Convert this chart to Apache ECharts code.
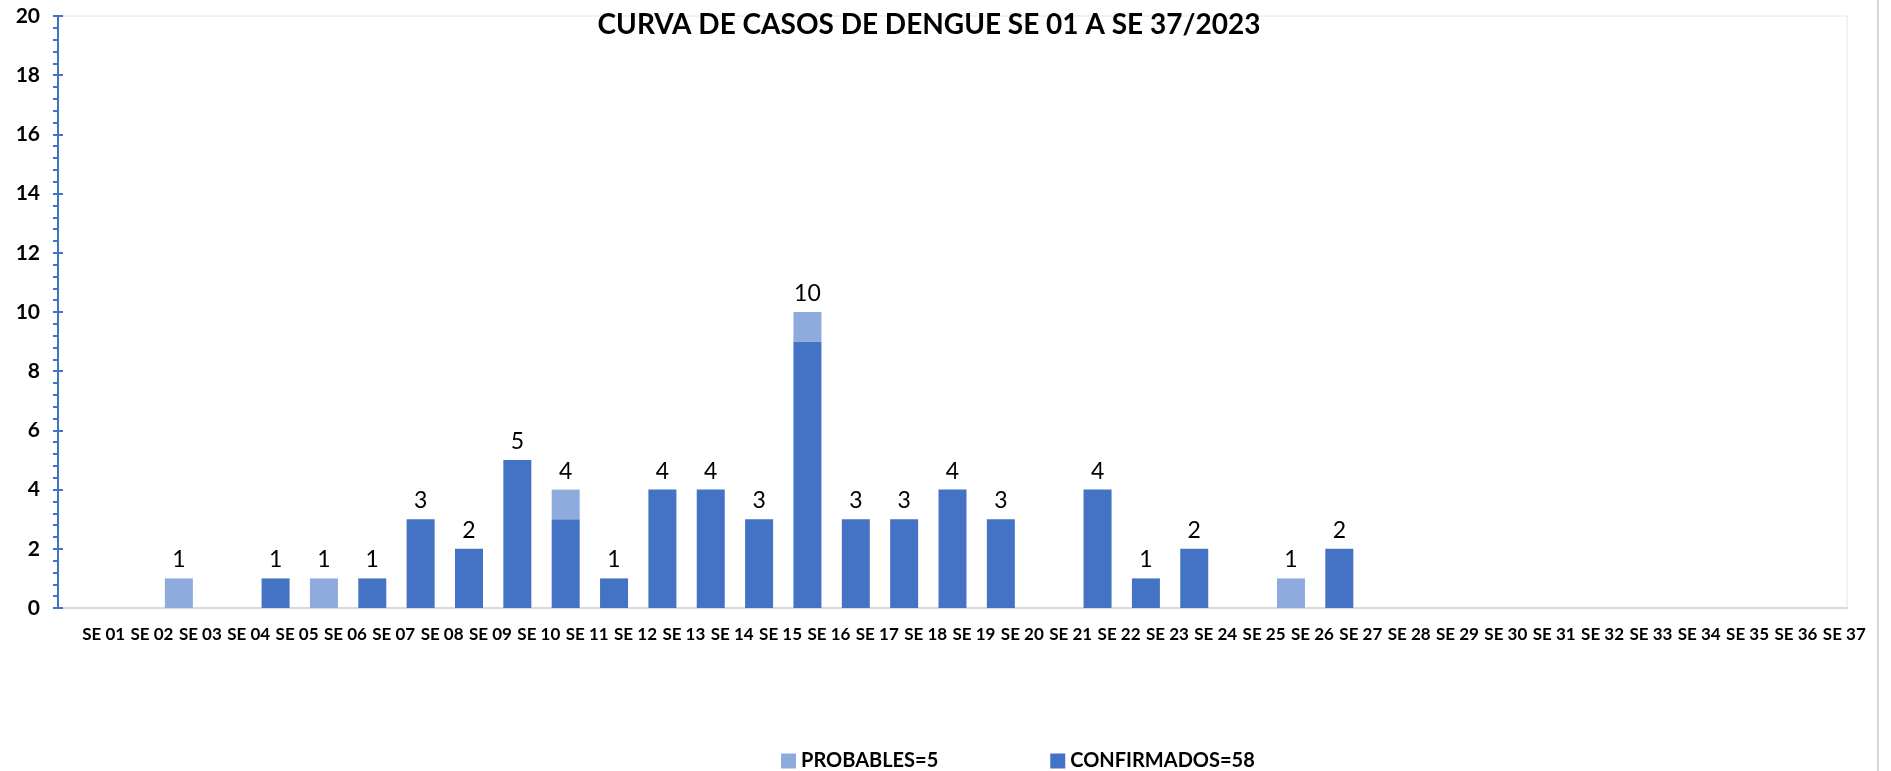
<!DOCTYPE html>
<html lang="es">
<head>
    <meta charset="UTF-8">
    <title>Curva de casos de dengue</title>
    <script src="https://cdn.jsdelivr.net/npm/echarts@6/dist/echarts.min.js"></script>
    <style>
        html, body { margin: 0; padding: 0; background: #fff; }
    </style>
</head>
<body>
<div style="width: 1891px; height: 771px" id="curva-chart"></div>

<script type="text/javascript">
    // semanas epidemiologicas
    var semanas = ['SE 01', 'SE 02', 'SE 03', 'SE 04', 'SE 05', 'SE 06', 'SE 07', 'SE 08', 'SE 09', 'SE 10',
        'SE 11', 'SE 12', 'SE 13', 'SE 14', 'SE 15', 'SE 16', 'SE 17', 'SE 18', 'SE 19', 'SE 20',
        'SE 21', 'SE 22', 'SE 23', 'SE 24', 'SE 25', 'SE 26', 'SE 27', 'SE 28', 'SE 29', 'SE 30',
        'SE 31', 'SE 32', 'SE 33', 'SE 34', 'SE 35', 'SE 36', 'SE 37'];

    var confirmados = [0, 0, 0, 0, 1, 0, 1, 3, 2, 5,
        3, 1, 4, 4, 3, 9, 3, 3, 4, 3,
        0, 4, 1, 2, 0, 0, 2, 0, 0, 0,
        0, 0, 0, 0, 0, 0, 0];

    var probables = [0, 0, 1, 0, 0, 1, 0, 0, 0, 0,
        1, 0, 0, 0, 0, 1, 0, 0, 0, 0,
        0, 0, 0, 0, 0, 1, 0, 0, 0, 0,
        0, 0, 0, 0, 0, 0, 0];

    var yTicks = [0, 2, 4, 6, 8, 10, 12, 14, 16, 18, 20];

    var sum = function (arr) {
        return arr.reduce(function (a, b) { return a + b; }, 0);
    };
    var nombreProb = 'PROBABLES=' + sum(probables);
    var nombreConf = 'CONFIRMADOS=' + sum(confirmados);
    var totales = confirmados.map(function (v, i) { return v + probables[i]; });

    var fuente = 'Lato';
    var azul = '#4472C4';
    var celeste = '#8FAADC';

    var myChart = echarts.init(document.getElementById('curva-chart'));

    var option = {
        animation: false,
        textStyle: { fontFamily: fuente },
        title: {
            text: 'CURVA DE CASOS DE DENGUE SE 01 A SE 37/2023',
            left: 924,
            top: 6,
            textAlign: 'center',
            textStyle: {
                fontFamily: fuente,
                fontWeight: 'bold',
                fontSize: 28,
                color: '#000'
            }
        },
        legend: {
            data: [nombreProb, nombreConf],
            left: 776,
            top: 746,
            icon: 'rect',
            itemWidth: 15,
            itemHeight: 15,
            itemGap: 112,
            textStyle: {
                fontFamily: fuente,
                fontWeight: 'bold',
                fontSize: 20,
                color: '#000'
            }
        },
        grid: {
            left: 58,
            right: 44,
            top: 16,
            bottom: 163,
            show: true,
            borderColor: '#DCE4F4',
            borderWidth: 1
        },
        xAxis: {
            type: 'category',
            data: semanas,
            axisLine: { lineStyle: { color: '#D9D9D9', width: 2 } },
            axisTick: { show: false },
            axisLabel: {
                align: 'left',
                margin: 18,
                interval: 0,
                fontFamily: fuente,
                fontWeight: 'bold',
                fontSize: 17,
                color: '#000'
            }
        },
        yAxis: [
            {
                type: 'value',
                min: yTicks[0],
                max: yTicks[yTicks.length - 1],
                interval: 2,
                axisLine: { show: true, lineStyle: { color: azul, width: 2 } },
                axisTick: { show: true, length: 5, lineStyle: { color: azul, width: 2 } },
                minorTick: { show: true, splitNumber: 5, length: 5, lineStyle: { color: azul, width: 2 } },
                splitLine: { show: false },
                axisLabel: {
                    margin: 18,
                    fontFamily: fuente,
                    fontWeight: 'bold',
                    fontSize: 21,
                    color: '#000'
                }
            },
            {
                // marcas interiores del eje principal
                type: 'value',
                position: 'left',
                min: yTicks[0],
                max: yTicks[yTicks.length - 1],
                interval: 2,
                axisLine: { show: false },
                axisTick: { show: true, inside: true, length: 5, lineStyle: { color: azul, width: 2 } },
                splitLine: { show: false },
                axisLabel: { show: false }
            }
        ],
        graphic: [
            {
                type: 'rect',
                shape: { x: 1877, y: 0, width: 2, height: 771 },
                style: { fill: '#D6D6D6' },
                silent: true
            }
        ],
        series: [
            {
                name: nombreConf,
                type: 'bar',
                stack: 'casos',
                barWidth: 28,
                itemStyle: { color: azul },
                data: confirmados
            },
            {
                name: nombreProb,
                type: 'bar',
                stack: 'casos',
                barWidth: 28,
                itemStyle: { color: celeste },
                label: {
                    show: true,
                    position: 'top',
                    distance: 7,
                    fontFamily: fuente,
                    fontSize: 23,
                    color: '#000',
                    formatter: function (p) {
                        var t = totales[p.dataIndex];
                        return t > 0 ? String(t) : '';
                    }
                },
                data: probables
            }
        ]
    };

    myChart.setOption(option);
</script>
</body>
</html>
